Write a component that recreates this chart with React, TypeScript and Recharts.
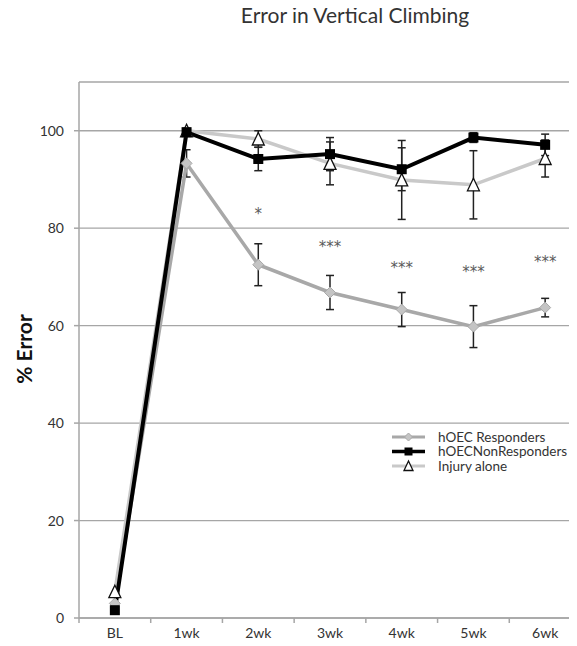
import React from "react";
import {
  ComposedChart, Line, Scatter, XAxis, YAxis, CartesianGrid, ErrorBar, Legend,
} from "recharts";

const categories = ["BL", "1wk", "2wk", "3wk", "4wk", "5wk", "6wk"];
const responders = [3, 93.3, 72.5, 66.8, 63.3, 59.8, 63.7];
const respondersErr = [0, 2.8, 4.3, 3.5, 3.5, 4.3, 1.9];
const nonResponders = [1.6, 99.7, 94.2, 95.2, 92.1, 98.6, 97.1];
const nonRespondersErr = [0, 0.5, 2.4, 3.4, 4.4, 1, 2.2];
const injuryAlone = [5.4, 100, 98.3, 93.3, 89.9, 88.9, 94.3];
const injuryErr = [0, 0.5, 1.7, 4.4, 8.1, 7, 3.8];
const sigCategories = ["2wk", "3wk", "4wk", "5wk", "6wk"];
const sigMarks = ["*", "***", "***", "***", "***"];
const sigHeights = [83.9, 77.1, 72.9, 72.0, 74.1];
const yTicks = [0, 20, 40, 60, 80, 100];

const FONT = "Lato, 'Open Sans', sans-serif";

const data = categories.map((c, i) => ({
  x: i,
  cat: c,
  resp: responders[i],
  respErr: respondersErr[i],
  non: nonResponders[i],
  nonErr: nonRespondersErr[i],
  inj: injuryAlone[i],
  injErr: injuryErr[i],
}));

const sigData = sigCategories.map((c, i) => ({
  x: categories.indexOf(c),
  sigY: sigHeights[i],
  mark: sigMarks[i],
}));

// tick values: category centres carry labels, half steps carry the tick marks
const xTicks: number[] = [];
for (let i = 0; i <= categories.length * 2; i++) xTicks.push(i / 2 - 0.5);

const XTick = (props: any) => {
  const { x, y, payload } = props;
  const v = payload.value;
  if (Number.isInteger(v)) {
    return (
      <text x={x} y={y + 20} textAnchor="middle" fontSize={14} fill="#333" fontFamily={FONT}>
        {categories[v]}
      </text>
    );
  }
  return <line x1={x} x2={x} y1={y} y2={y + 5} stroke="#a6a6a6" strokeWidth={1.5} />;
};

const Diamond = ({ cx, cy, r = 5.5 }: any) => (
  <path
    d={`M${cx},${cy - r}L${cx + r},${cy}L${cx},${cy + r}L${cx - r},${cy}Z`}
    fill="#c4c4c4"
    stroke="#a8a8a8"
    strokeWidth={1}
  />
);
const Square = ({ cx, cy, s = 5 }: any) => (
  <rect x={cx - s} y={cy - s} width={s * 2} height={s * 2} fill="#000" />
);
const Triangle = ({ cx, cy, s = 6 }: any) => (
  <path
    d={`M${cx},${cy - s - 0.5}L${cx + s},${cy + s}L${cx - s},${cy + s}Z`}
    fill="#fff"
    stroke="#111"
    strokeWidth={1.3}
  />
);

const legendItems = [
  { name: "hOEC Responders", color: "#a8a8a8", width: 3, Mark: (p: any) => <Diamond {...p} r={4} /> },
  { name: "hOECNonResponders", color: "#000", width: 3.5, Mark: (p: any) => <Square {...p} s={4} /> },
  { name: "Injury alone", color: "#c9c9c9", width: 3, Mark: (p: any) => <Triangle {...p} s={4.5} /> },
];

const LegendBox = () => (
  <svg width={190} height={50} style={{ display: "block" }}>
    {legendItems.map((it, i) => {
      const cy = 9 + i * 14.5;
      return (
        <g key={it.name}>
          <line x1={2} x2={35} y1={cy} y2={cy} stroke={it.color} strokeWidth={it.width} />
          <it.Mark cx={18.5} cy={cy} />
          <text x={48} y={cy + 4.5} fontSize={13.5} fill="#333" fontFamily={FONT}>
            {it.name}
          </text>
        </g>
      );
    })}
  </svg>
);

export default function App() {
  return (
    <div style={{ position: "relative", width: 577, height: 646, margin: -8, overflow: "hidden", background: "#fff" }}>
      <ComposedChart
        width={581}
        height={646}
        data={data}
        margin={{ top: 82, right: 0, bottom: 0, left: 0 }}
      >
        <CartesianGrid vertical={false} stroke="#a6a6a6" strokeWidth={1.3} />
        <XAxis
          dataKey="x"
          type="number"
          domain={[-0.5, 6.5]}
          ticks={xTicks}
          interval={0}
          tick={<XTick />}
          tickLine={false}
          tickSize={0}
          tickMargin={0}
          height={28}
          stroke="#a6a6a6"
          strokeWidth={1.5}
          allowDataOverflow
        />
        <YAxis
          type="number"
          domain={[0, 110]}
          ticks={yTicks}
          width={79}
          tickSize={5}
          tickMargin={10}
          stroke="#a6a6a6"
          strokeWidth={1.5}
          tick={{ fill: "#333", fontSize: 14, fontFamily: FONT }}
        />
        <Line
          dataKey="resp"
          stroke="#a8a8a8"
          strokeWidth={3.5}
          isAnimationActive={false}
          activeDot={false}
          dot={(p: any) => <Diamond key={`r${p.index}`} cx={p.cx} cy={p.cy} />}
        >
          <ErrorBar dataKey="respErr" width={4} stroke="#222" strokeWidth={1.5} direction="y" />
        </Line>
        <Line
          dataKey="inj"
          stroke="#c9c9c9"
          strokeWidth={3.5}
          isAnimationActive={false}
          activeDot={false}
          dot={(p: any) => <Triangle key={`t${p.index}`} cx={p.cx} cy={p.cy} />}
        >
          <ErrorBar dataKey="injErr" width={4} stroke="#222" strokeWidth={1.5} direction="y" />
        </Line>
        <Line
          dataKey="non"
          stroke="#000"
          strokeWidth={4}
          isAnimationActive={false}
          activeDot={false}
          dot={(p: any) => <Square key={`s${p.index}`} cx={p.cx} cy={p.cy} />}
        >
          <ErrorBar dataKey="nonErr" width={4} stroke="#222" strokeWidth={1.5} direction="y" />
        </Line>
        <Scatter
          data={sigData}
          dataKey="sigY"
          isAnimationActive={false}
          shape={(p: any) => (
            <text x={p.cx} y={p.cy + 10} textAnchor="middle" fontSize={15} fill="#5a5a5a" fontFamily="'DejaVu Sans', sans-serif">
              {p.payload.mark}
            </text>
          )}
        />
        <Legend
          layout="horizontal"
          verticalAlign="middle"
          align="center"
          wrapperStyle={{ position: "absolute", left: 390, top: 428, width: 190 }}
          content={() => <LegendBox />}
        />
      </ComposedChart>
      <svg
        width={577}
        height={646}
        style={{ position: "absolute", left: 0, top: 0, pointerEvents: "none" }}
      >
        <text x={355} y={23} textAnchor="middle" fontSize={21} fill="#333" fontFamily={FONT}>
          Error in Vertical Climbing
        </text>
        <text
          x={23}
          y={349}
          textAnchor="middle"
          dominantBaseline="central"
          fontSize={21}
          fontWeight="bold"
          fill="#111"
          fontFamily={FONT}
          transform="rotate(-90, 23, 349)"
        >
          % Error
        </text>
      </svg>
    </div>
  );
}
